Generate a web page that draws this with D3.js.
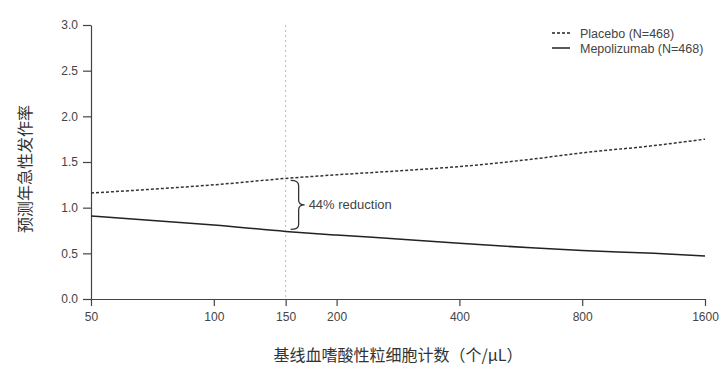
<!DOCTYPE html>
<html>
<head>
<meta charset="utf-8">
<script src="https://cdn.jsdelivr.net/npm/d3@7"></script>
<style>
  body { margin: 0; background: #fff; }
  svg { display: block; font-family: "Liberation Sans", Arial, sans-serif; }
  .axis text { fill: #444; font-size: 12px; }
  .axis path, .axis line { stroke: #444; }
</style>
</head>
<body>
<div class="vis"></div>
<script>
'use strict';

// eosinophil counts (cells/uL) and predicted annual exacerbation rates
var eos = [50, 75, 100, 150, 200, 300, 400, 600, 800, 1200, 1600];
var placebo = [1.16, 1.21, 1.25, 1.32, 1.36, 1.41, 1.45, 1.53, 1.60, 1.68, 1.75];
var mepolizumab = [0.91, 0.85, 0.81, 0.74, 0.70, 0.65, 0.61, 0.56, 0.53, 0.50, 0.47];

var xTicks = [50, 100, 150, 200, 400, 800, 1600];
var yTicks = [0, 0.5, 1, 1.5, 2, 2.5, 3];
var legendLabels = ['Placebo (N=468)', 'Mepolizumab (N=468)'];
var cutoff = 150;
var reductionLabel = '44% reduction';

var width = 728;
var height = 372;
var margin = { top: 25, right: 23, bottom: 73, left: 91 };

var x = d3.scaleLog()
	.domain([50, 1600])
	.range([margin.left, width - margin.right]);

var y = d3.scaleLinear()
	.domain([0, 3])
	.range([height - margin.bottom, margin.top]);

var svg = d3.select('.vis')
	.append('svg')
		.attr('width', width)
		.attr('height', height);

// axes
svg.append('g')
	.attr('class', 'axis')
	.attr('transform', 'translate(0,' + y(0) + ')')
	.call(d3.axisBottom(x).tickValues(xTicks).tickFormat(d3.format('d')).tickSize(7).tickPadding(6).tickSizeOuter(0));

svg.append('g')
	.attr('class', 'axis')
	.attr('transform', 'translate(' + x(50) + ',0)')
	.call(d3.axisLeft(y).tickValues(yTicks).tickFormat(d3.format('.1f')).tickSize(8).tickPadding(5).tickSizeOuter(0));

svg.selectAll('.axis path, .axis line').attr('stroke-width', 1.2);

// vertical reference line at 150 cells/uL
svg.append('line')
	.attr('x1', x(cutoff)).attr('x2', x(cutoff))
	.attr('y1', y(3)).attr('y2', y(0))
	.attr('stroke', '#bbb')
	.attr('stroke-width', 1)
	.attr('stroke-dasharray', '2,3');

// lines
var line = d3.line()
	.x(function(d) { return x(d[0]); })
	.y(function(d) { return y(d[1]); })
	.curve(d3.curveMonotoneX);

svg.append('path')
	.datum(d3.zip(eos, placebo))
	.attr('d', line)
	.attr('fill', 'none')
	.attr('stroke', '#333')
	.attr('stroke-width', 1.5)
	.attr('stroke-dasharray', '3,2');

svg.append('path')
	.datum(d3.zip(eos, mepolizumab))
	.attr('d', line)
	.attr('fill', 'none')
	.attr('stroke', '#222')
	.attr('stroke-width', 1.5);

// brace between the two curves at the cutoff
var iCut = eos.indexOf(cutoff);
var bTop = y(placebo[iCut]) + 2;
var bBot = y(mepolizumab[iCut]) - 2;
var bMid = (bTop + bBot) / 2;
var bx = x(cutoff) + 5;
var r = 5;
svg.append('path')
	.attr('d',
		'M' + bx + ',' + bTop +
		' Q' + (bx + r + 3) + ',' + bTop + ' ' + (bx + r + 3) + ',' + (bTop + r) +
		' L' + (bx + r + 3) + ',' + (bMid - r) +
		' Q' + (bx + r + 3) + ',' + bMid + ' ' + (bx + 2 * r + 4) + ',' + bMid +
		' Q' + (bx + r + 3) + ',' + bMid + ' ' + (bx + r + 3) + ',' + (bMid + r) +
		' L' + (bx + r + 3) + ',' + (bBot - r) +
		' Q' + (bx + r + 3) + ',' + bBot + ' ' + bx + ',' + bBot)
	.attr('fill', 'none')
	.attr('stroke', '#333')
	.attr('stroke-width', 1.3);

svg.append('text')
	.attr('x', bx + 2 * r + 8)
	.attr('y', bMid + 4.5)
	.attr('fill', '#444')
	.style('font-size', '13px')
	.text(reductionLabel);

// legend
var legend = svg.selectAll('.legend')
	.data(legendLabels)
	.enter()
	.append('g')
		.attr('class', 'legend')
		.attr('transform', function(d, i) { return 'translate(552,' + (33 + i * 15) + ')'; });

legend.append('line')
	.attr('x1', 0).attr('x2', 18)
	.attr('stroke', '#222')
	.attr('stroke-width', 1.5)
	.attr('stroke-dasharray', function(d, i) { return i === 0 ? '3,2' : null; });

legend.append('text')
	.attr('x', 28)
	.attr('y', 4.5)
	.attr('fill', '#444')
	.style('font-size', '12.5px')
	.text(function(d) { return d; });

// axis titles
svg.append('text')
	.attr('x', (x(50) + x(1600)) / 2)
	.attr('y', 361)
	.attr('text-anchor', 'middle')
	.attr('fill', '#333')
	.style('font-family', '"Noto Sans CJK SC", sans-serif')
	.style('font-size', '16px')
	.text('基线血嗜酸性粒细胞计数（个/μL）');

svg.append('text')
	.attr('transform', 'translate(31,169) rotate(-90)')
	.attr('text-anchor', 'middle')
	.attr('fill', '#333')
	.style('font-family', '"Noto Sans CJK SC", sans-serif')
	.style('font-size', '16px')
	.text('预测年急性发作率');
</script>
</body>
</html>
